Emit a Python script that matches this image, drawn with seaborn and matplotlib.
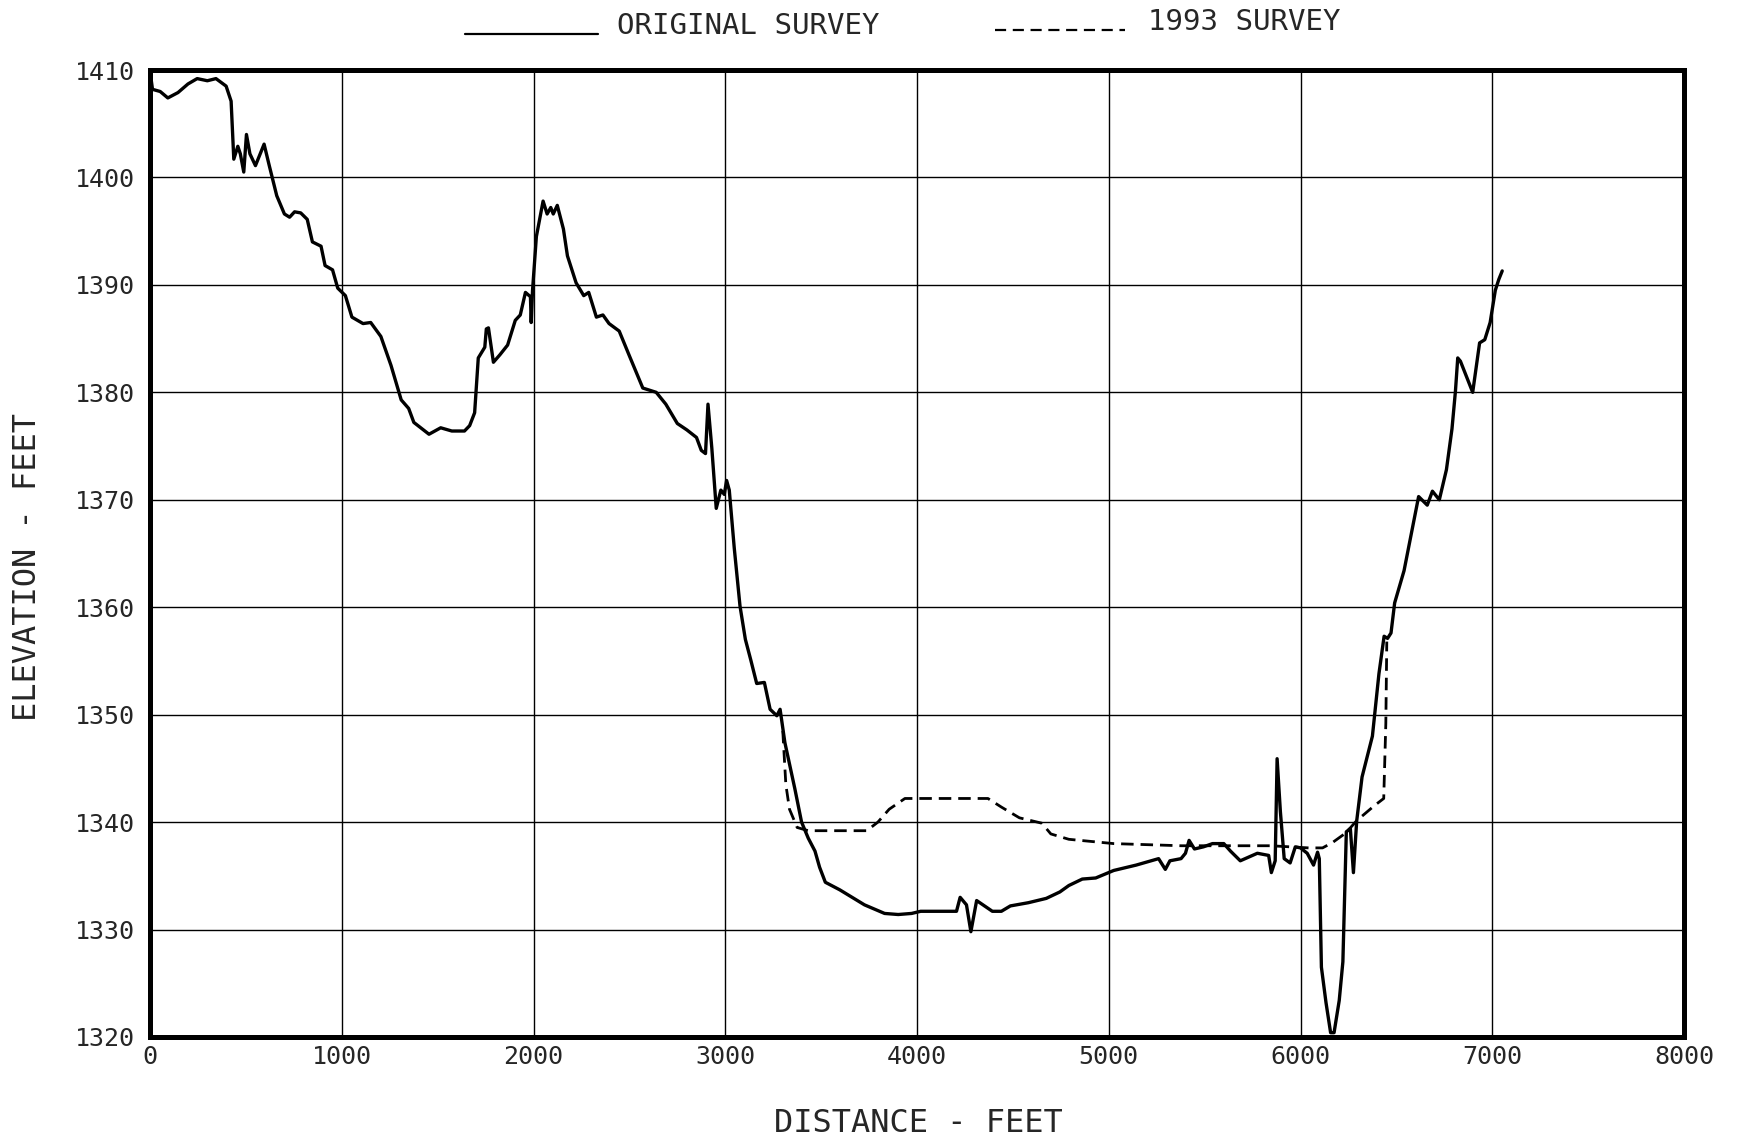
import numpy as np
import pandas as pd
import matplotlib
matplotlib.use("Agg")
import matplotlib.pyplot as plt
from matplotlib.lines import Line2D
import seaborn as sns

# original survey
orig_dist = [0, 13, 53, 93, 146, 198, 246, 299, 344, 397, 423, 437, 458, 471, 489, 503, 521, 550, 595, 622,
             661, 701, 728, 754, 786, 820, 847, 892, 913, 952, 979, 1019, 1053, 1111, 1151, 1204, 1257, 1310,
             1349, 1376, 1455, 1516, 1574, 1640, 1667, 1693, 1712, 1746, 1754, 1765, 1791, 1825, 1865, 1905,
             1931, 1958, 1984, 1988, 1995, 2015, 2050, 2071, 2090, 2103, 2124, 2156, 2177, 2222, 2262, 2288,
             2328, 2362, 2394, 2447, 2500, 2570, 2640, 2690, 2750, 2800, 2850, 2875, 2897, 2910, 2930, 2953,
             2977, 2995, 3007, 3021, 3047, 3077, 3105, 3133, 3164, 3204, 3234, 3269, 3286, 3311, 3363, 3398,
             3433, 3468, 3492, 3522, 3597, 3726, 3831, 3902, 3972, 4019, 4112, 4206, 4225, 4258, 4281, 4311,
             4393, 4440, 4487, 4581, 4674, 4745, 4792, 4862, 4932, 5026, 5143, 5260, 5295, 5319, 5377, 5400,
             5419, 5447, 5494, 5541, 5600, 5635, 5686, 5775, 5834, 5848, 5868, 5878, 5895, 5915, 5946, 5973,
             6000, 6035, 6068, 6089, 6098, 6109, 6133, 6157, 6175, 6202, 6221, 6239, 6260, 6276, 6293, 6321,
             6375, 6409, 6436, 6454, 6472, 6491, 6540, 6616, 6661, 6688, 6724, 6761, 6790, 6808, 6820, 6834,
             6898, 6934, 6961, 6989, 7016, 7034, 7052]
orig_elev = [1409.9, 1408.2, 1408.0, 1407.4, 1407.9, 1408.7, 1409.2, 1409.0, 1409.2, 1408.5, 1407.1, 1401.7,
             1402.9, 1402.2, 1400.5, 1404.0, 1402.2, 1401.1, 1403.1, 1401.1, 1398.3, 1396.6, 1396.3, 1396.8,
             1396.7, 1396.1, 1394.0, 1393.6, 1391.8, 1391.4, 1389.7, 1389.0, 1387.0, 1386.4, 1386.5, 1385.2,
             1382.5, 1379.3, 1378.5, 1377.2, 1376.1, 1376.7, 1376.4, 1376.4, 1376.9, 1378.1, 1383.2, 1384.2,
             1385.9, 1386.0, 1382.8, 1383.5, 1384.4, 1386.7, 1387.2, 1389.3, 1388.9, 1386.5, 1389.5, 1394.5,
             1397.8, 1396.6, 1397.2, 1396.6, 1397.4, 1395.2, 1392.7, 1390.2, 1389.0, 1389.3, 1387.0, 1387.2,
             1386.4, 1385.7, 1383.4, 1380.4, 1380.0, 1378.9, 1377.1, 1376.5, 1375.8, 1374.6, 1374.3, 1378.9,
             1374.8, 1369.2, 1370.9, 1370.5, 1371.8, 1370.9, 1365.5, 1360.1, 1357.0, 1355.1, 1352.9, 1353.0,
             1350.5, 1349.9, 1350.5, 1347.4, 1343.1, 1340.0, 1338.5, 1337.3, 1335.8, 1334.4, 1333.7, 1332.3,
             1331.5, 1331.4, 1331.5, 1331.7, 1331.7, 1331.7, 1333.0, 1332.3, 1329.8, 1332.7, 1331.7, 1331.7,
             1332.2, 1332.5, 1332.9, 1333.5, 1334.1, 1334.7, 1334.8, 1335.5, 1336.0, 1336.6, 1335.6, 1336.4,
             1336.6, 1337.1, 1338.3, 1337.5, 1337.7, 1338.0, 1338.0, 1337.3, 1336.4, 1337.1, 1336.9, 1335.3,
             1336.4, 1345.9, 1341.0, 1336.6, 1336.2, 1337.7, 1337.6, 1337.1, 1336.0, 1337.2, 1336.6, 1326.5,
             1323.2, 1320.4, 1320.4, 1323.4, 1327.0, 1339.1, 1339.4, 1335.3, 1340.1, 1344.2, 1348.0, 1353.8,
             1357.3, 1357.1, 1357.6, 1360.4, 1363.4, 1370.3, 1369.5, 1370.8, 1370.0, 1372.8, 1376.6, 1380.1,
             1383.2, 1382.9, 1380.0, 1384.6, 1384.9, 1386.5, 1389.5, 1390.5, 1391.3]

# 1993 survey (dashed)
new_dist = [3300, 3316, 3335, 3375, 3433, 3738, 3796, 3855, 3937, 4370, 4440, 4534, 4651, 4698, 4792, 5026,
            5377, 5845, 6043, 6115, 6167, 6237, 6291, 6383, 6434, 6445, 6450]
new_elev = [1348.5, 1343.5, 1341.2, 1339.5, 1339.2, 1339.2, 1340.0, 1341.2, 1342.2, 1342.2, 1341.4, 1340.4,
            1339.9, 1338.9, 1338.4, 1338.0, 1337.8, 1337.8, 1337.6, 1337.6, 1338.1, 1339.0, 1340.1, 1341.5,
            1342.2, 1349.2, 1356.8]

x_ticks = [0, 1000, 2000, 3000, 4000, 5000, 6000, 7000, 8000]
y_ticks = [1320, 1330, 1340, 1350, 1360, 1370, 1380, 1390, 1400, 1410]

orig = pd.DataFrame({"dist": orig_dist, "elev": orig_elev})
new = pd.DataFrame({"dist": new_dist, "elev": new_elev})

sns.set_style("white")
plt.rcParams["font.family"] = ["DejaVu Sans Mono", "DejaVu Sans"]

W, H = 1743, 1141
fig = plt.figure(figsize=(W / 100, H / 100), dpi=100)
L, R, T, B = 150, 1684, 70, 1037
ax = fig.add_axes([L / W, 1 - B / H, (R - L) / W, (B - T) / H])

sns.lineplot(data=orig, x="dist", y="elev", color="black", linewidth=2.4,
             sort=False, estimator=None, ax=ax)
sns.lineplot(data=new, x="dist", y="elev", color="black", linewidth=2.0,
             sort=False, estimator=None, ax=ax)
ax.lines[-1].set_dashes((4.5, 2.5))

ax.set_xlim(0, 8000)
ax.set_ylim(1320, 1410)
ax.set_xticks(x_ticks)
ax.set_yticks(y_ticks)
ax.set_xticklabels([str(v) for v in x_ticks], fontsize=18)
ax.set_yticklabels([str(v) for v in y_ticks], fontsize=18)
ax.tick_params(axis="both", length=0)
ax.tick_params(axis="x", pad=6)
ax.tick_params(axis="y", pad=11)
ax.grid(True, color="black", linewidth=1.0)
ax.set_axisbelow(True)
for s in ax.spines.values():
    s.set_visible(True)
    s.set_color("black")
    s.set_linewidth(3.6)

ax.set_xlabel("")
ax.set_ylabel("")
fig.text(918 / W, 1 - 1123 / H, "DISTANCE - FEET", fontsize=23, ha="center", va="center")
fig.text(28 / W, 1 - 567 / H, "ELEVATION - FEET", fontsize=23, ha="center", va="center", rotation=90)

# legend on top, drawn by hand
fig.add_artist(Line2D([465 / W, 598 / W], [1 - 34 / H, 1 - 34 / H], color="black", linewidth=1.6))
fig.text(617 / W, 1 - 34 / H, "ORIGINAL SURVEY", fontsize=21, ha="left", va="baseline")
fig.add_artist(Line2D([995 / W, 1125 / W], [1 - 30 / H, 1 - 30 / H], color="black", linewidth=1.6,
                      dashes=(5, 3)))
fig.text(1148 / W, 1 - 30 / H, "1993 SURVEY", fontsize=21, ha="left", va="baseline")

fig.savefig("out.png", dpi=100)
